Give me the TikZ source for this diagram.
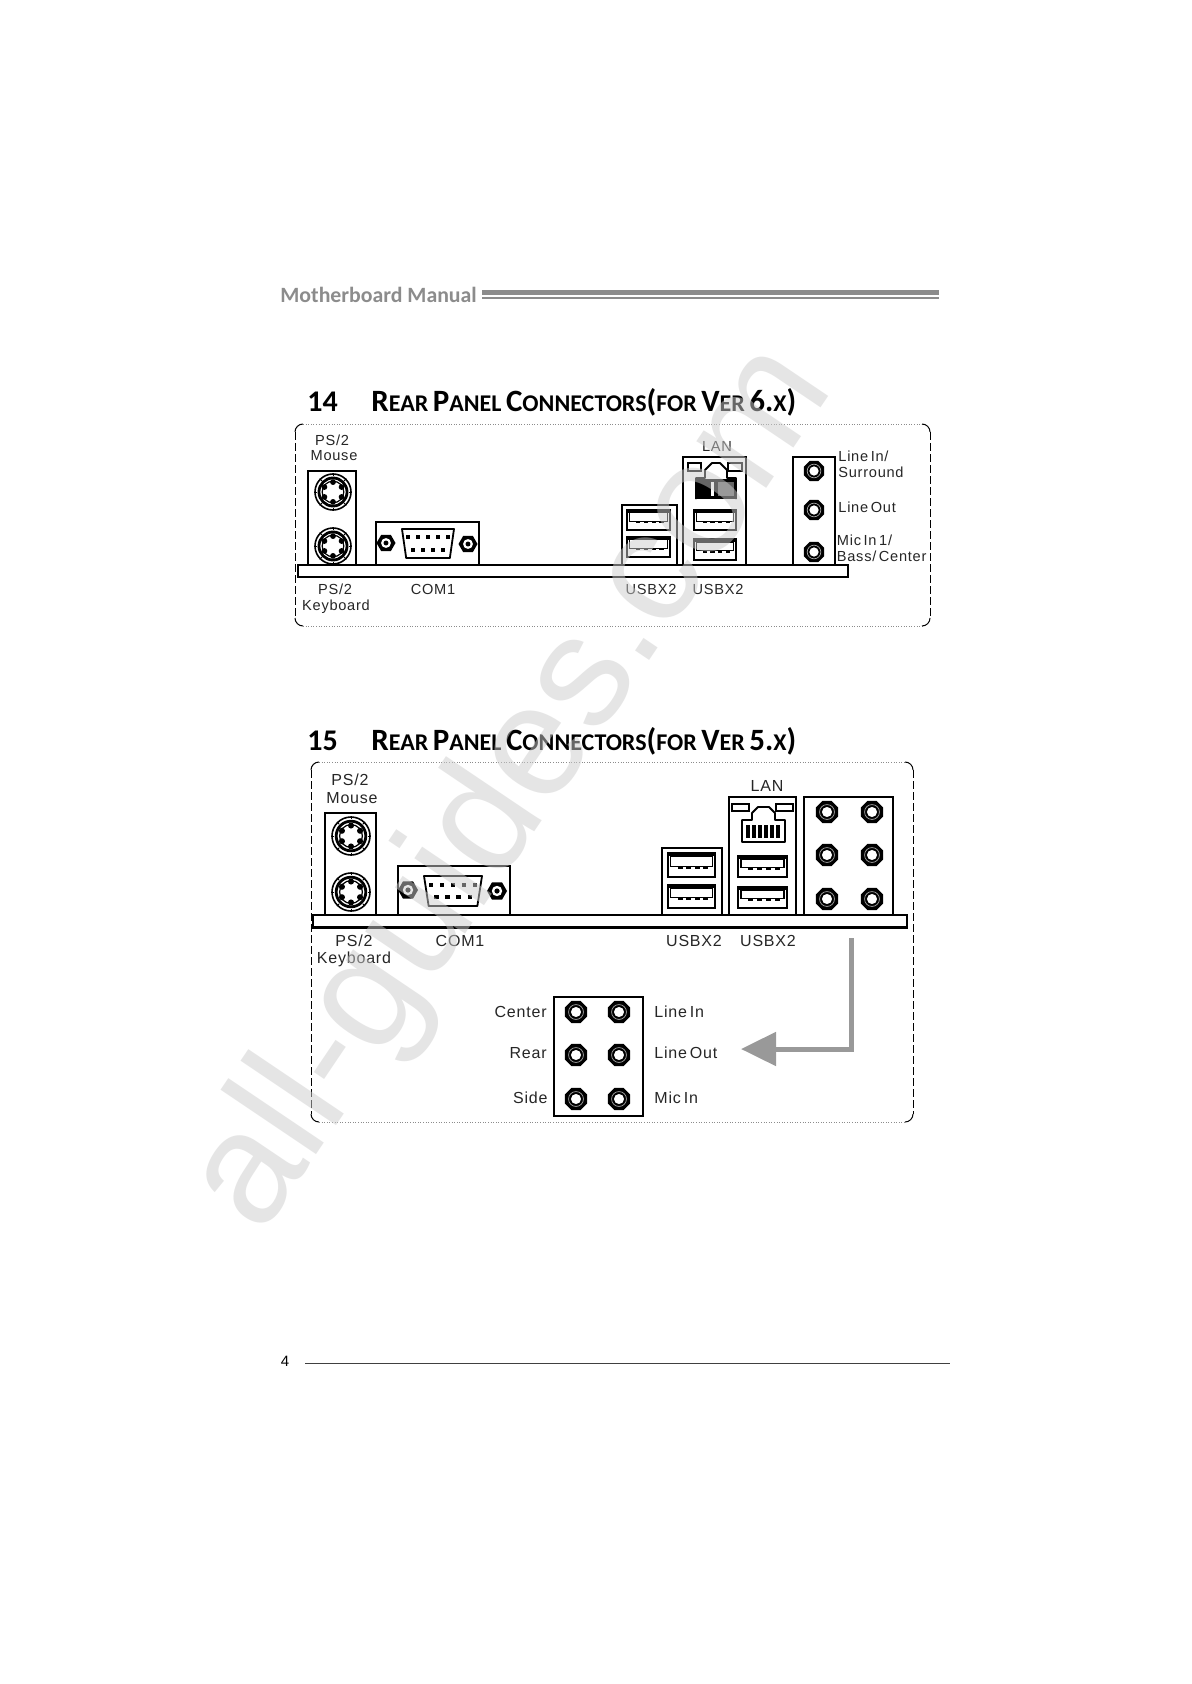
\documentclass[tikz,border=0pt]{standalone}
\usepackage{fontspec}
\setmainfont{Liberation Sans}
\newfontfamily\labfont[LetterSpace=5,WordSpace=0.55]{Liberation Sans}
\newfontfamily\titlefont{Carlito}
\usetikzlibrary{arrows.meta}
\definecolor{wmgrey}{gray}{0.8}
\definecolor{hdgrey}{gray}{0.55}
\newcommand{\tcap}[1]{{\fontsize{15.5}{15}\selectfont #1}}
\newcommand{\tsm}[1]{{\fontsize{12}{12}\selectfont #1}}
\newcommand{\unitbox}[4]{\pgfmathsetmacro{\ucx}{(#1+#3)/2}\pgfmathsetmacro{\ucy}{(#2+#4)/2}\pgfmathsetmacro{\usx}{(#3-#1)/100}\pgfmathsetmacro{\usy}{(#4-#2)/100}}
\newcommand{\usbport}[4]{\unitbox{#1}{#2}{#3}{#4}
 \begin{scope}[shift={(\ucx,\ucy)},xscale=\usx,yscale=\usy]
  \draw[portline] (-50,-50) rectangle (50,50);
  \fill (-50,-50) rectangle (50,-36);
  \draw[line width=.6pt,fill=white] (-44,-36) rectangle (44,6);
  \foreach \tx in {-24,-6,12,30}{\fill (\tx-5,6) rectangle (\tx+5,16);}
 \end{scope}}
\newcommand{\dsubport}[4]{\unitbox{#1}{#2}{#3}{#4}
 \begin{scope}[shift={(\ucx,\ucy)},xscale=\usx,yscale=\usy]
  \draw[portline,line join=round] (-50,-50) -- (50,-50) -- (42,50) -- (-42,50) -- cycle;
  \foreach \tx in {-38,-19,0,19,38}{\fill (\tx-4,-28) rectangle (\tx+4,-14);}
  \foreach \tx in {-29,-10,10,29}{\fill (\tx-4,14) rectangle (\tx+4,28);}
 \end{scope}}
\newcommand{\jack}[3]{
  \fill[line join=round] plot[samples at={22.5,67.5,...,337.5}] ({#1+#3*cos(\x)},{#2+#3*sin(\x)}) -- cycle;
  \draw[line width=.35pt,black!35] (#1,#2) circle[radius=#3*0.62];
  \fill[white] (#1,#2) circle[radius=#3*0.42];}
\newcommand{\psport}[3]{
  \draw[line width=.8pt,fill=white] (#1,#2) circle[radius=#3];
  \draw[line width=1.4pt] (#1,#2) circle[radius=#3*0.78];
  \draw[line width=.6pt] (#1,#2) circle[radius=#3*0.6];
  \foreach \ta in {30,90,150,210,270,330}{\fill (#1,#2) ++(\ta:#3*0.55) circle[radius=#3*0.16];}
  \foreach \ta in {0,45,...,315}{\draw[line width=.5pt] (#1,#2) ++(\ta:#3*0.88) -- ++(\ta:#3*0.17);}
  \fill[white] plot[samples at={0,45,...,315}] ({#1+#3*0.38*cos(\x)},{#2+#3*0.38*sin(\x)}) -- cycle;}
\newcommand{\screw}[3]{
  \fill plot[samples at={0,60,...,300}] ({#1+#3*cos(\x)},{#2+#3*sin(\x)}) -- cycle;
  \fill[white] (#1,#2) circle[radius=#3*0.52];
  \fill (#1,#2) circle[radius=#3*0.26];}
\tikzset{
  portline/.style={line width=.9pt},
  panelbox/.style={line width=1.1pt,fill=white},
  lab/.style={font=\labfont\fontsize{7.3}{8}\selectfont,inner sep=0pt,text=black!85},
  labb/.style={font=\labfont\fontsize{8}{9}\selectfont,inner sep=0pt,text=black!85},
  titletxt/.style={font=\titlefont\bfseries,inner sep=0pt,anchor=base west},
  framedot/.style={line width=.3pt,black!45,densely dotted},
  framedash/.style={line width=.45pt,black,dashed,dash pattern=on 4pt off 1.5pt},
  framecorner/.style={line width=.5pt,black},
  bendarrow/.style={line width=2.5pt,wmgrey!75!black,-{Triangle[length=17.5pt,width=16.5pt]}}
}
\begin{document}
\begin{tikzpicture}[x=0.5pt,y=-0.5pt]
\useasboundingbox (0,0) rectangle (1191,1684);
\fill[white] (0,0) rectangle (1191,1684);

% header
\node[font=\titlefont\bfseries\fontsize{10.9}{12}\selectfont,text=hdgrey,inner sep=0pt,anchor=west] (hdr) at (280,295) {Motherboard Manual};
\fill[hdgrey] (482,290.5) rectangle (939,295);
\fill[hdgrey] (482,297) rectangle (939,299.5);

% section 14 title
\node[titletxt,font=\titlefont\bfseries\fontsize{15}{15}\selectfont] (num14) at (307,412) {14};
\node[titletxt] (ttl14) at (371,412) {\tcap{R}\tsm{EAR} \tcap{P}\tsm{ANEL} \tcap{C}\tsm{ONNECTORS}\tcap{(}\tsm{FOR} \tcap{V}\tsm{ER} \tcap{6.}\tsm{X}\tcap{)}};

% frame 14
\draw[framedot] (303,424) -- (922,424);
\draw[framedot] (303,626) -- (922,626);
\draw[framedash] (295,432) -- (295,618);
\draw[framedash] (930,432) -- (930,618);
\draw[framecorner] (295,432) arc[start angle=180,end angle=270,radius=8];
\draw[framecorner] (922,424) arc[start angle=270,end angle=360,radius=8];
\draw[framecorner] (295,618) arc[start angle=180,end angle=90,radius=8];
\draw[framecorner] (930,618) arc[start angle=0,end angle=90,radius=8];

% panel 14 boxes
\draw[panelbox] (308,471) rectangle (356,565);
\psport{333}{492}{18}
\psport{333}{546}{18}
\draw[panelbox] (376,522) rectangle (479,565);
\screw{386}{543}{9.5}
\dsubport{402}{529}{454}{558}
\screw{468}{544}{9.5}
\draw[panelbox] (622,505) rectangle (677,565);
\usbport{627}{510}{670}{530}
\usbport{627}{537}{670}{557}
\draw[panelbox] (683,457) rectangle (746,565);
\draw[portline] (688,463) rectangle (701,471);
\draw[portline] (728,463) rectangle (742,471);
\draw[portline,line join=round] (696,499) -- (696,478) -- (705,478) -- (705,470) -- (712,463) -- (720,463) -- (727,470) -- (727,478) -- (736,478) -- (736,499);
\fill (696,479) rectangle (736,499);
\fill[white] (711,482) rectangle (714,496);
\fill[black!60] (718,482) rectangle (734,496);
\usbport{694}{510}{736}{530}
\usbport{694}{539}{736}{560}
\draw[panelbox] (793,457) rectangle (835,565);
\jack{814}{471}{11}
\jack{814}{510}{11}
\jack{814}{552}{11}
\draw[panelbox] (298,565) rectangle (848,577);

% panel 14 labels
\node[lab] (a1) at (332,440) {PS/2};
\node[lab] (a2) at (334,456) {Mouse};
\node[lab] (a3) at (335,589) {PS/2};
\node[lab] (a4) at (336,606.5) {Keyboard};
\node[lab] (a5) at (433,589) {COM1};
\node[lab] (a6) at (651,589) {USBX2};
\node[lab] (a7) at (718,589) {USBX2};
\node[lab] (a8) at (717,446) {LAN};
\node[lab,anchor=west] (a9) at (838,456) {Line In/};
\node[lab,anchor=west] (a10) at (838,472) {Surround};
\node[lab,anchor=west] (a11) at (838,507) {Line Out};
\node[lab,anchor=west] (a12) at (836.5,540) {Mic In 1/};
\node[lab,anchor=west] (a13) at (836.5,556) {Bass/ Center};

% section 15 title
\node[titletxt,font=\titlefont\bfseries\fontsize{15}{15}\selectfont] (num15) at (307,750) {15};
\node[titletxt] (ttl15) at (371,750) {\tcap{R}\tsm{EAR} \tcap{P}\tsm{ANEL} \tcap{C}\tsm{ONNECTORS}\tcap{(}\tsm{FOR} \tcap{V}\tsm{ER} \tcap{5.}\tsm{X}\tcap{)}};

% frame 15
\draw[framedot] (319,762) -- (905,762);
\draw[framedot] (319,1122) -- (905,1122);
\draw[framedash] (311,770) -- (311,1114);
\draw[framedash] (913,770) -- (913,1114);
\draw[framecorner] (311,770) arc[start angle=180,end angle=270,radius=8];
\draw[framecorner] (905,762) arc[start angle=270,end angle=360,radius=8];
\draw[framecorner] (311,1114) arc[start angle=180,end angle=90,radius=8];
\draw[framecorner] (913,1114) arc[start angle=0,end angle=90,radius=8];

% panel 15 boxes
\draw[panelbox] (325,813) rectangle (376,915);
\psport{351}{836}{19}
\psport{351}{892}{19}
\draw[panelbox] (398,866) rectangle (510,915);
\screw{408}{890}{10}
\dsubport{424}{876}{482}{906}
\screw{497}{891}{10}
\draw[panelbox] (662,848) rectangle (722,915);
\usbport{668}{853}{715}{877}
\usbport{668}{885}{715}{908}
\draw[panelbox] (729,797) rectangle (796,915);
\draw[portline] (732,804) rectangle (749,811);
\draw[portline] (776,804) rectangle (793,811);
\draw[portline,line join=round] (742,842) -- (742,820) -- (752,820) -- (752,813) -- (758,807) -- (769,807) -- (775,813) -- (775,820) -- (785,820) -- (785,842) -- cycle;
\foreach \sx in {746,752,758,764,770,776}{\fill (\sx,825) rectangle (\sx+4,838);}
\usbport{738}{856}{787}{877}
\usbport{738}{887}{787}{908}
\draw[panelbox] (804,797) rectangle (893,915);
\foreach \jx in {827,872}{\foreach \jy in {812,855,899}{\jack{\jx}{\jy}{12}}}
\draw[panelbox] (313,915) rectangle (907,927.5);

% panel 15 labels
\node[labb] (b1) at (350,780) {PS/2};
\node[labb] (b2) at (352,798) {Mouse};
\node[labb] (b3) at (354,941) {PS/2};
\node[labb] (b4) at (354,959.5) {Keyboard};
\node[labb] (b5) at (460,941) {COM1};
\node[labb] (b6) at (694,941) {USBX2};
\node[labb] (b7) at (768,941) {USBX2};
\node[labb] (b8) at (767,786) {LAN};

% audio detail
\draw[panelbox] (554,997) rectangle (643,1116);
\foreach \jx in {576,619}{\foreach \jy in {1012,1055,1099}{\jack{\jx}{\jy}{12}}}
\node[labb,anchor=east] (c1) at (547,1012) {Center};
\node[labb,anchor=east] (c2) at (547,1053) {Rear};
\node[labb,anchor=east] (c3) at (548,1098) {Side};
\node[labb,anchor=west] (c4) at (654,1012) {Line In};
\node[labb,anchor=west] (c5) at (654,1053) {Line Out};
\node[labb,anchor=west] (c6) at (654,1098) {Mic In};

% bent arrow
\coordinate (arrA) at (851,938);
\coordinate (arrB) at (851,1049);
\coordinate (arrC) at (741,1049);
\draw[bendarrow] (arrA) -- (arrB) -- (arrC);

% footer
\node[font=\fontsize{7.5}{8}\selectfont,inner sep=0pt] (pg) at (285,1361) {4};
\draw[line width=.5pt,black!75] (305,1363) -- (950,1363);

% watermark
\node[font=\fontsize{79.5}{80}\selectfont,text=wmgrey,text opacity=0.5,inner sep=0pt,rotate=56] (wm) at (514,789) {all-guides.com};
\end{tikzpicture}
\end{document}
